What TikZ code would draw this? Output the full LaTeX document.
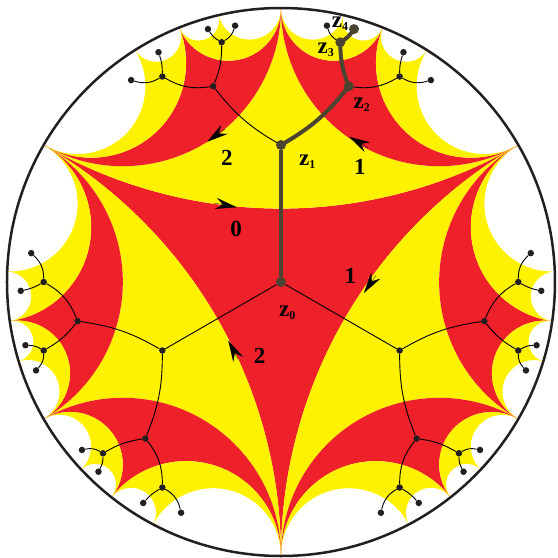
\documentclass[tikz,border=0pt]{standalone}
\usepackage{fontspec}
\setmainfont{Liberation Serif}
\usetikzlibrary{arrows.meta}
\definecolor{tilered}{HTML}{EE2029}
\definecolor{tileyellow}{HTML}{FFF200}
\definecolor{dotdark}{HTML}{231F20}
\definecolor{pathdark}{HTML}{4A4430}
\tikzset{
  dotnode/.style={circle, fill=dotdark, inner sep=0pt, minimum size=6.5pt},
  bigdot/.style={circle, fill=pathdark, inner sep=0pt, minimum size=10pt},
  thinedge/.style={draw=black, line width=0.9pt},
  thickedge/.style={draw=pathdark, line width=4pt},
  sidemark/.style={line width=0.3pt, -{Stealth[length=21pt, width=11pt, inset=7pt]}},
  sidenum/.style={font=\fontsize{23}{23}\selectfont\bfseries, inner sep=0pt},
}
\newcommand{\zlab}[1]{\fontsize{23}{23}\selectfont\bfseries z\raisebox{-3pt}{\fontsize{12}{12}\selectfont #1}}
\newcommand{\geoarc}[2]{arc[start angle=#1+270, end angle=#2+90, radius={tan((#2-#1)/2)}]}
\newcommand{\geoback}[2]{arc[start angle=#2+90, end angle=#1+270, radius={tan((#2-#1)/2)}]}
\newcommand{\tile}[4]{\fill[#1] (#2:1) \geoarc{#2}{#3} \geoarc{#3}{#4} \geoback{#2}{#4} -- cycle;}
\begin{document}
\begin{tikzpicture}[x=274pt, y=274pt]
\useasboundingbox (-1.02555,-1.00730) rectangle (1.01095,1.02920);

% Central tile
\fill[tilered] (30:1) \geoarc{30}{150} \geoarc{150}{270} \geoarc{270}{390} -- cycle;

% Outer tiles
\foreach \r in {0,120,240} {
  \begin{scope}[rotate=\r]
    \tile{tileyellow}{30}{90}{150}
    \tile{tilered}{30}{68.21}{90}
    \tile{tilered}{90}{111.79}{150}
    \tile{tileyellow}{30}{57.80}{68.21}
    \tile{tileyellow}{68.21}{76.83}{90}
    \tile{tileyellow}{90}{103.17}{111.79}
    \tile{tileyellow}{111.79}{122.20}{150}
  \end{scope}
}

% Boundary circle
\draw[draw=dotdark, line width=2.5pt] (0,0) circle (1);

% Tree
\node[bigdot] (c) at (0,0) {};
\foreach \r in {0,120,240} {
  \begin{scope}[rotate=\r]
    \node[dotnode] (d\r) at (0,0.5) {};
    \foreach \s/\m/\A/\B in {a/1/right/left,b/-1/left/right} {
      \begin{scope}[xscale=\m]
        \node[dotnode] (e\r\s) at (0.2474,0.7143) {};
        \node[dotnode] (f\r\s) at (0.2165,0.8750) {};
        \node[dotnode] (g\r\s) at (0.4330,0.7500) {};
        \node[dotnode] (h\r\s) at (0.1676,0.9355) {};
        \node[dotnode] (i\r\s) at (0.2665,0.9231) {};
        \node[dotnode] (j\r\s) at (0.4470,0.8387) {};
        \node[dotnode] (k\r\s) at (0.5470,0.7368) {};
      \end{scope}
      \draw[thinedge] (d\r) to[bend \A=10.9] (e\r\s);
      \draw[thinedge] (e\r\s) to[bend \B=10.9] (f\r\s);
      \draw[thinedge] (e\r\s) to[bend \A=19.1] (g\r\s);
      \draw[thinedge] (f\r\s) to[bend \B=21.3] (h\r\s);
      \draw[thinedge] (f\r\s) to[bend \A=13.9] (i\r\s);
      \draw[thinedge] (g\r\s) to[bend \B=9] (j\r\s);
      \draw[thinedge] (g\r\s) to[bend \A=23.4] (k\r\s);
    }
    \draw[thinedge] (c) -- (d\r);
  \end{scope}
}

% Path z0 to z4
\node[bigdot] (z1) at (d0) {};
\node[bigdot] (z2) at (e0a) {};
\node[bigdot] (z3) at (f0a) {};
\node[bigdot] (z4) at (i0a) {};
\draw[thickedge] (c) -- (z1);
\draw[thickedge] (z1.center) to[bend right=10.9] (z2.center);
\draw[thickedge] (z2.center) to[bend left=10.9] (z3.center);
\draw[thickedge] (z3.center) to[bend right=13.9] (z4.center);

% Side arrows
\coordinate (s0) at (-0.2445,0.2883);
\coordinate (t0) at (-0.1617,0.2726);
\coordinate (s1) at (0.3456,0.0230);
\coordinate (t1) at (0.3029,-0.0401);
\coordinate (s2) at (-0.1569,-0.2810);
\coordinate (t2) at (-0.1923,-0.2142);
\coordinate (s3) at (-0.2044,0.5584);
\coordinate (t3) at (-0.2690,0.5120);
\coordinate (s4) at (0.3175,0.4905);
\coordinate (t4) at (0.2482,0.5303);
\foreach \n in {0,...,4} {
  \draw[sidemark] (s\n) -- (t\n);
}

% Labels
\node[sidenum] (n0) at (-0.1642,0.1934) {0};
\node[sidenum] (n1) at (0.2530,0.0219) {1};
\node[sidenum] (n2) at (-0.0777,-0.2690) {2};
\node[sidenum] (n3) at (-0.1971,0.4515) {2};
\node[sidenum] (n4) at (0.2883,0.4208) {1};
\node[inner sep=0pt] (l0) at (0.0230,-0.1120) {\zlab{0}};
\node[inner sep=0pt] (l1) at (0.0960,0.4391) {\zlab{1}};
\node[inner sep=0pt] (l2) at (0.2945,0.6460) {\zlab{2}};
\node[inner sep=0pt] (l3) at (0.1631,0.8467) {\zlab{3}};
\node[inner sep=0pt] (l4) at (0.2153,0.9416) {\zlab{4}};
\end{tikzpicture}
\end{document}
